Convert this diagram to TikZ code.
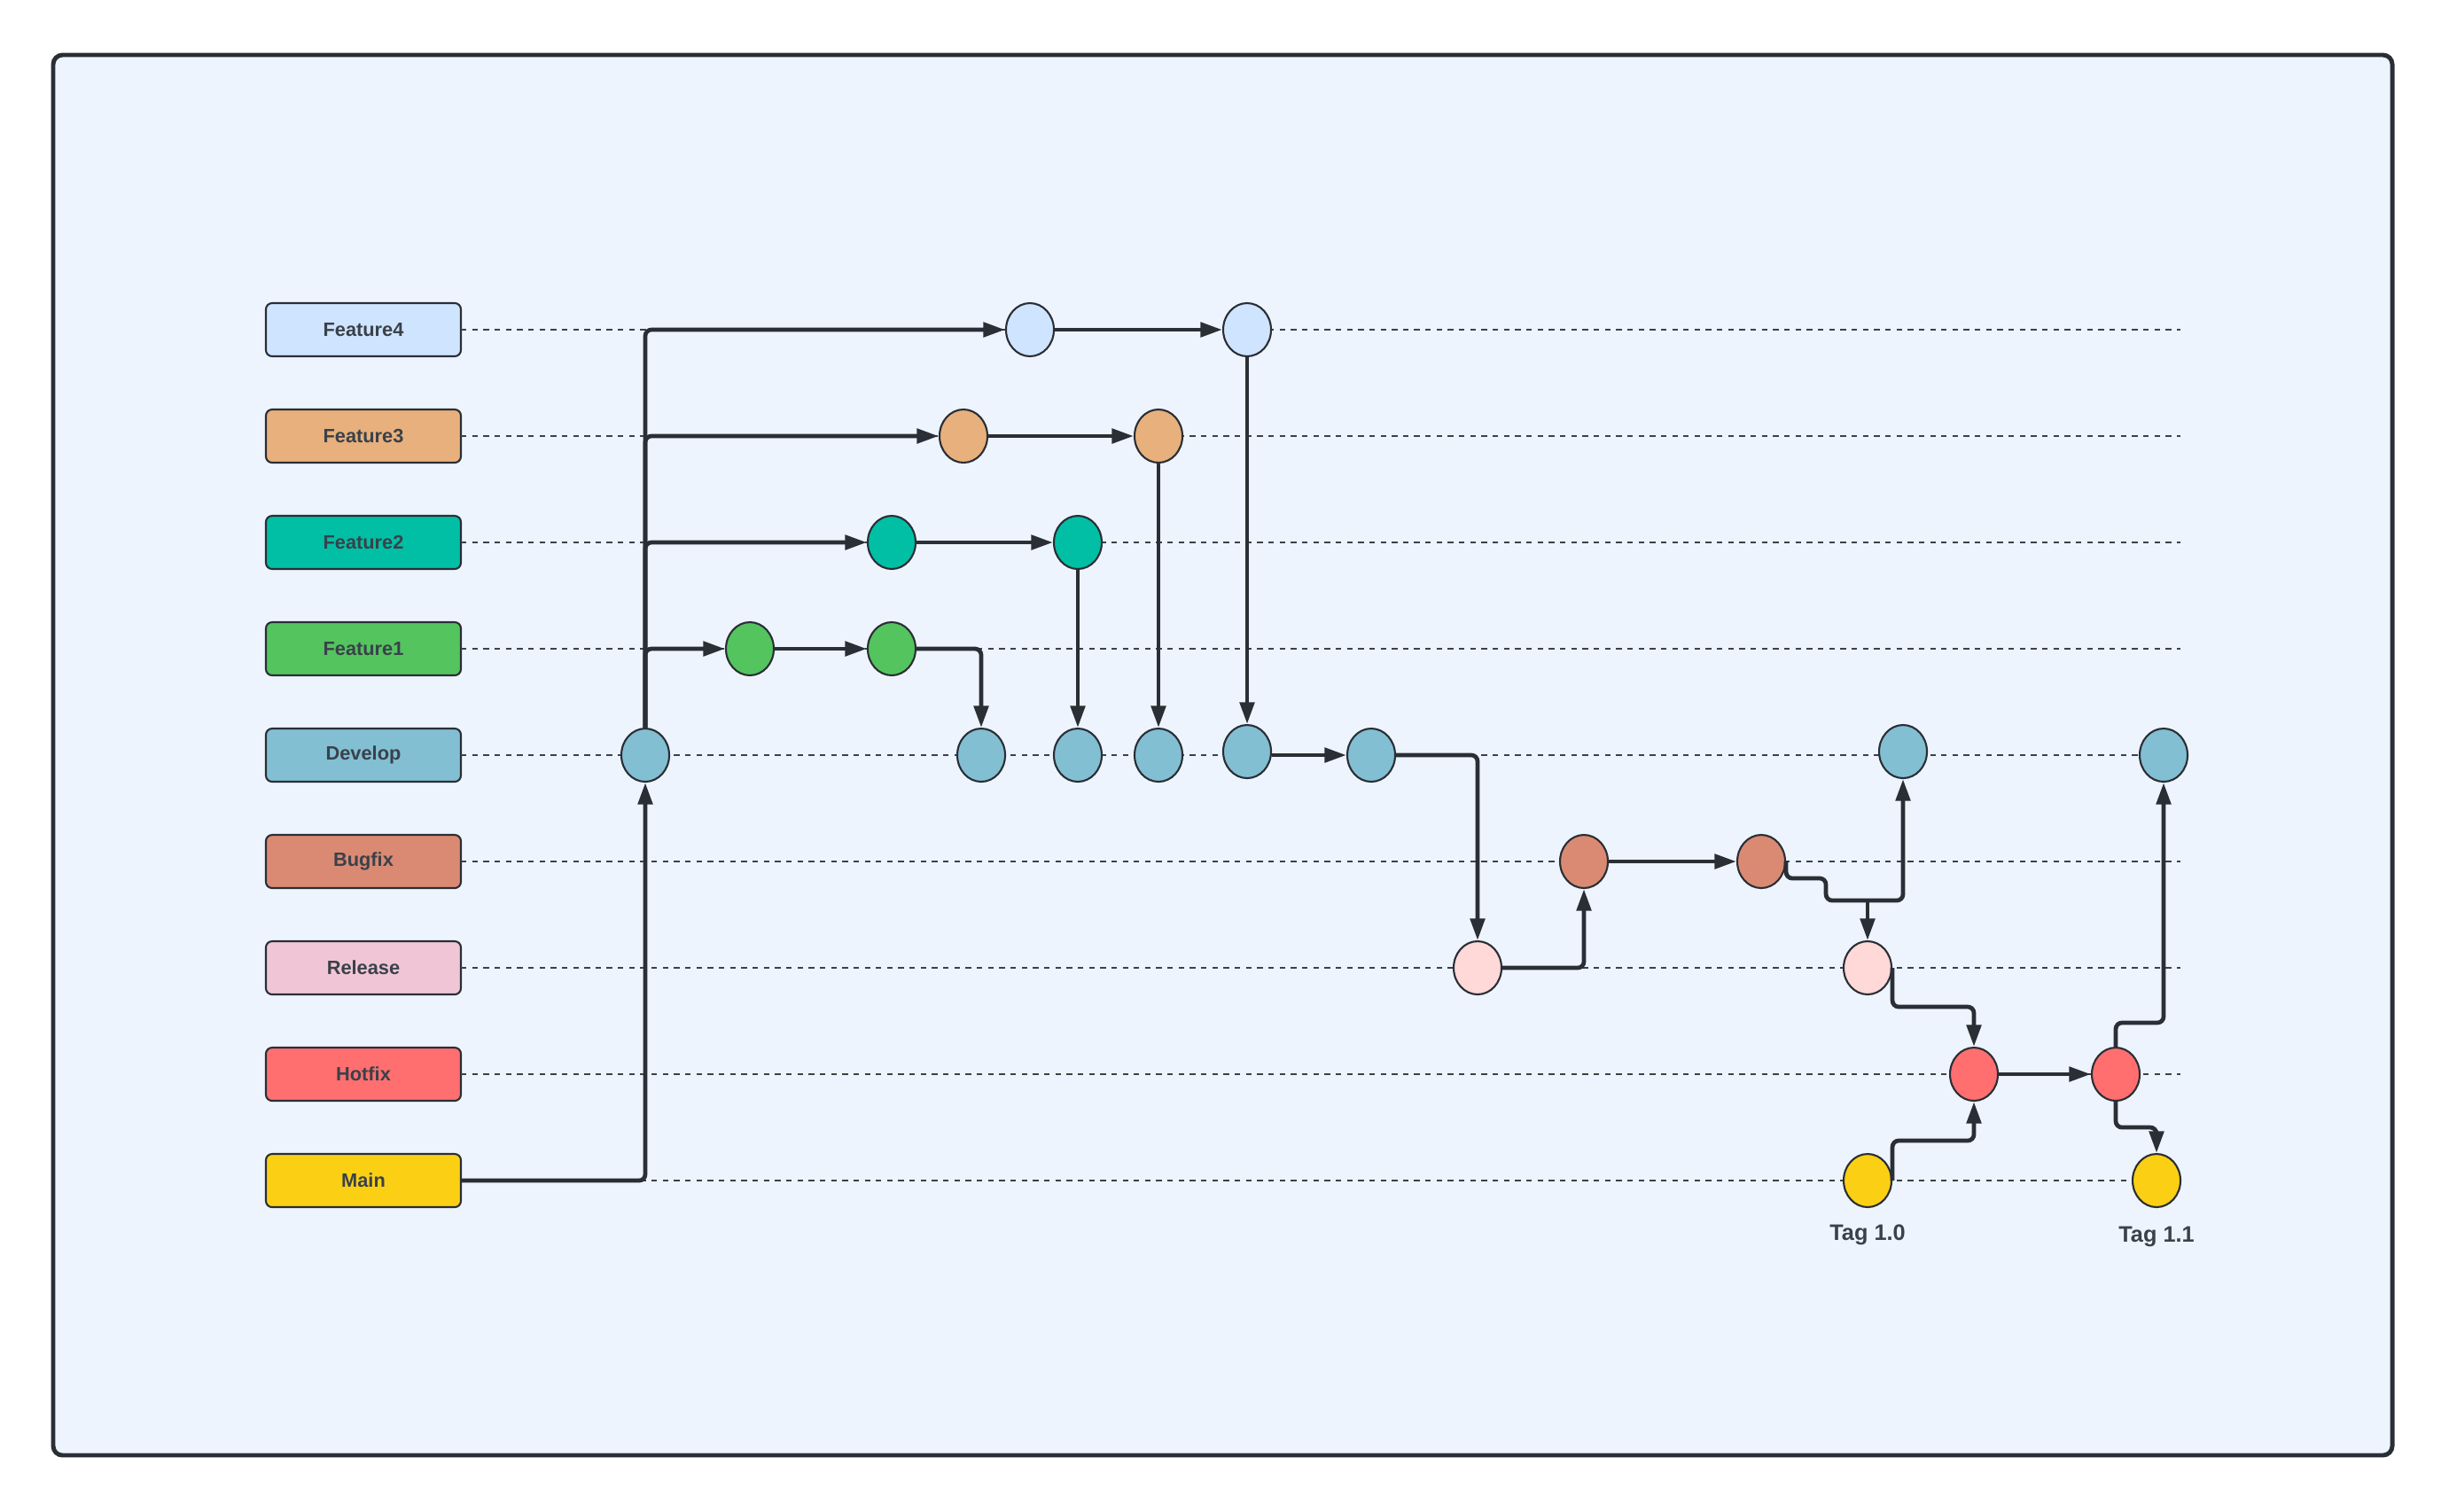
\documentclass[tikz,border=0pt]{standalone}
\usepackage{fontspec}
\setmainfont{Liberation Sans}
\usetikzlibrary{positioning,arrows.meta,shapes.geometric}

\definecolor{ink}{HTML}{2A2E35}
\definecolor{txt}{HTML}{3A414A}
\definecolor{paper}{HTML}{EDF4FE}
\definecolor{featfour}{HTML}{CFE4FF}
\definecolor{featthree}{HTML}{E8B07C}
\definecolor{feattwo}{HTML}{00BFA5}
\definecolor{featone}{HTML}{54C45E}
\definecolor{devc}{HTML}{82BFD3}
\definecolor{bugc}{HTML}{DA8A73}
\definecolor{relc}{HTML}{F0C6D6}
\definecolor{relnode}{HTML}{FFD8D8}
\definecolor{hotc}{HTML}{FF6F6F}
\definecolor{mainc}{HTML}{FBD014}

\begin{document}
\begin{tikzpicture}[
        node distance = 0.6cm and 0.9cm,
        lanebox/.style = {rectangle, draw=ink, rounded corners=2pt, line width=0.6pt,
                      minimum width=2.2cm, minimum height=0.6cm, outer sep=0pt,
                      text centered, text=txt, font=\fontsize{6.2}{7}\selectfont\bfseries},
        commit/.style = {ellipse, draw=ink, line width=0.6pt, inner sep=0pt,
                      minimum width=0.54cm, minimum height=0.6cm},
        lane/.style = {draw=txt, line width=0.5pt, dash pattern=on 1.8pt off 1.8pt},
        arr/.style = {-{Triangle[length=7pt,width=4.6pt]}, draw=ink,
                      line width=1.35pt, rounded corners=2pt},
        tag/.style = {text=txt, inner sep=0pt, font=\fontsize{7.2}{8}\selectfont\bfseries}
    ]
    \useasboundingbox (0,0) rectangle (27.63,-17.05);
    \draw[ink, line width=1.4pt, fill=paper, rounded corners=3pt] (0.60,-0.62) rectangle (26.99,-16.42);

    % branch labels
    \node[lanebox, fill=featfour] (f4) at (4.10,-3.72) {Feature4};
    \node[lanebox, fill=featthree, below=of f4] (f3) {Feature3};
    \node[lanebox, fill=feattwo, below=of f3] (f2) {Feature2};
    \node[lanebox, fill=featone, below=of f2] (f1) {Feature1};
    \node[lanebox, fill=devc, below=of f1] (dev) {Develop};
    \node[lanebox, fill=bugc, below=of dev] (bug) {Bugfix};
    \node[lanebox, fill=relc, below=of bug] (rel) {Release};
    \node[lanebox, fill=hotc, below=of rel] (hot) {Hotfix};
    \node[lanebox, fill=mainc, below=of hot] (main) {Main};

    % lanes
    \coordinate (laneend) at (24.60,0);
    \draw[lane] (f4.east) -- (f4.east -| laneend);
    \draw[lane] (f3.east) -- (f3.east -| laneend);
    \draw[lane] (f2.east) -- (f2.east -| laneend);
    \draw[lane] (f1.east) -- (f1.east -| laneend);
    \draw[lane] (dev.east) -- (dev.east -| laneend);
    \draw[lane] (bug.east) -- (bug.east -| laneend);
    \draw[lane] (rel.east) -- (rel.east -| laneend);
    \draw[lane] (hot.east) -- (hot.east -| laneend);
    \draw[lane] (main.east) -- (main.east -| laneend);

    % commits
    \node[commit, fill=devc] (d0) at (7.28,-8.52) {};
    \node[commit, fill=featfour] (f4a) at (11.62,-3.72) {};
    \node[commit, fill=featfour] (f4b) at (14.07,-3.72) {};
    \node[commit, fill=featthree] (f3a) at (10.87,-4.92) {};
    \node[commit, fill=featthree] (f3b) at (13.07,-4.92) {};
    \node[commit, fill=feattwo] (f2a) at (10.06,-6.12) {};
    \node[commit, fill=feattwo] (f2b) at (12.16,-6.12) {};
    \node[commit, fill=featone] (f1a) at (8.46,-7.32) {};
    \node[commit, fill=featone] (f1b) at (10.06,-7.32) {};
    \node[commit, fill=devc] (d1) at (11.07,-8.52) {};
    \node[commit, fill=devc] (d2) at (12.16,-8.52) {};
    \node[commit, fill=devc] (d3) at (13.07,-8.52) {};
    \node[commit, fill=devc] (d4) at (14.07,-8.48) {};
    \node[commit, fill=devc] (d5) at (15.47,-8.52) {};
    \node[commit, fill=devc] (d6) at (21.47,-8.48) {};
    \node[commit, fill=devc] (d7) at (24.41,-8.52) {};
    \node[commit, fill=bugc] (b1) at (17.87,-9.72) {};
    \node[commit, fill=bugc] (b2) at (19.87,-9.72) {};
    \node[commit, fill=relnode] (r1) at (16.67,-10.92) {};
    \node[commit, fill=relnode] (r2) at (21.07,-10.92) {};
    \node[commit, fill=hotc] (h1) at (22.27,-12.12) {};
    \node[commit, fill=hotc] (h2) at (23.87,-12.12) {};
    \node[commit, fill=mainc] (m1) at (21.07,-13.32) {};
    \node[commit, fill=mainc] (m2) at (24.33,-13.32) {};
    \node[tag, below=0.18cm of m1] (tag10) {Tag 1.0};
    \node[tag, below=0.2cm of m2] (tag11) {Tag 1.1};

    \coordinate (bstep) at (21.07,-10.16);
    \coordinate (rstep) at (22.27,-11.36);
    \coordinate (mstep) at (22.27,-12.87);

    % connectors
    \draw[arr] (main.east) -| (d0.south);
    \draw[arr] (d0.north) |- (f4a.west);
    \draw[arr] (d0.north) |- (f3a.west);
    \draw[arr] (d0.north) |- (f2a.west);
    \draw[arr] (d0.north) |- (f1a.west);
    \draw[arr] (f4a) -- (f4b);
    \draw[arr] (f3a) -- (f3b);
    \draw[arr] (f2a) -- (f2b);
    \draw[arr] (f1a) -- (f1b);
    \draw[arr] (f1b.east) -| (d1.north);
    \draw[arr] (f2b) -- (d2);
    \draw[arr] (f3b) -- (d3);
    \draw[arr] (f4b) -- (d4);
    \draw[arr] (d4.east |- d5.west) -- (d5.west);
    \draw[arr] (d5.east) -| (r1.north);
    \draw[arr] (r1.east) -| (b1.south);
    \draw[arr] (b1) -- (b2);
    \draw[arr] (b2.east) |- ++(0.45,-0.19) |- (bstep) -| (d6.south);
    \draw[arr] (bstep) -- (r2.north);
    \draw[arr] (r2.east) |- (rstep) -- (h1.north);
    \draw[arr] (m1.east) |- (mstep) -- (h1.south);
    \draw[arr] (h1) -- (h2);
    \draw[arr] (h2.north) -- ++(0,0.27) -| (d7.south);
    \draw[arr] (h2.south) -- ++(0,-0.29) -| (m2.north);
\end{tikzpicture}
\end{document}
